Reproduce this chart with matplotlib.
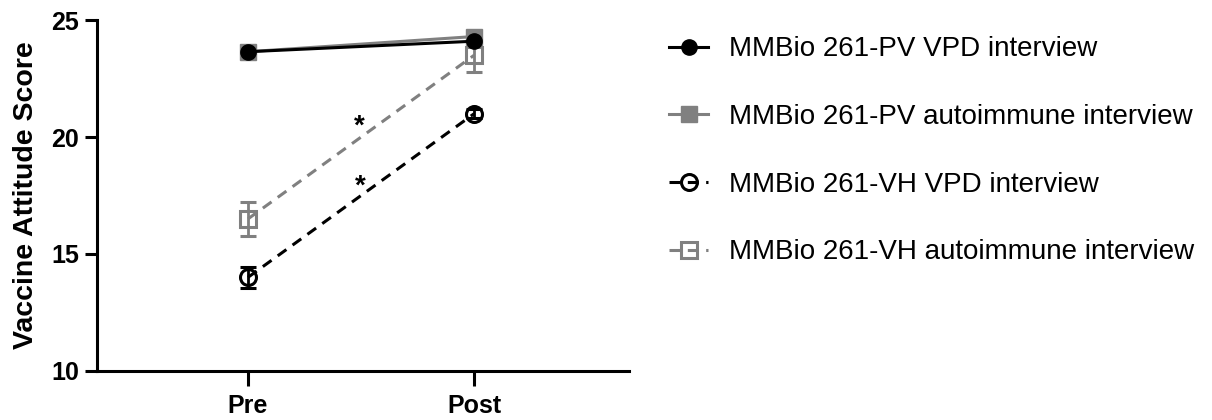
import matplotlib
matplotlib.use("Agg")
import matplotlib.pyplot as plt
from matplotlib.lines import Line2D

plt.rcParams['font.family'] = ['Liberation Sans', 'DejaVu Sans']

# Dados
tempos = ["Pre", "Post"]
x = [0, 1]

pv_vpd = [23.65, 24.1]
pv_auto = [23.65, 24.3]
vh_vpd = [14.0, 21.0]
vh_vpd_err = [0.46, 0.2]
vh_auto = [16.5, 23.5]
vh_auto_err = [0.73, 0.7]

nomes = ["MMBio 261-PV VPD interview",
         "MMBio 261-PV autoimmune interview",
         "MMBio 261-VH VPD interview",
         "MMBio 261-VH autoimmune interview"]

# posicoes dos asteriscos (x, y)
asteriscos_x = [0.49, 0.495]
asteriscos_y = [20.45, 17.9]

cinza = "#808080"
tracejado = (0, (3.5, 2.5))

# estilos de cada serie (cor, linha, marcador, tamanho, preenchimento)
estilos = [
    dict(color="black", ls="-", marker="o", ms=11, mfc="black", mec="black"),
    dict(color=cinza, ls="-", marker="s", ms=11, mfc=cinza, mec=cinza),
    dict(color="black", ls=tracejado, marker="o", ms=11.5, mfc="none", mec="black", mew=2.2),
    dict(color=cinza, ls=tracejado, marker="s", ms=12, mfc="none", mec=cinza, mew=2.2),
]

fig = plt.figure(figsize=(12.12, 4.2), dpi=100)
ax = fig.add_axes([0.080, 0.117, 0.439, 0.835])

# Series VH (com barras de erro)
ax.errorbar(x, vh_auto, yerr=vh_auto_err, lw=2.2, capsize=5.5, elinewidth=2,
            capthick=2, zorder=2, **estilos[3])
ax.errorbar(x, vh_vpd, yerr=vh_vpd_err, lw=2.2, capsize=5.5, elinewidth=2,
            capthick=2, zorder=3, **estilos[2])

# Series PV (erro escondido atras do marcador)
ax.plot(x, pv_auto, lw=2.2, zorder=4, **estilos[1])
ax.plot(x, pv_vpd, lw=2.2, zorder=5, **estilos[0])

for ax_, ay_ in zip(asteriscos_x, asteriscos_y):
    ax.text(ax_, ay_, "*", fontsize=20, fontweight="bold", ha="center", va="center")

# Eixos
ax.set_xlim(-0.668, 1.685)
ax.set_ylim(10, 25)
ax.set_yticks([10, 15, 20, 25])
ax.set_xticks(x)
ax.set_xticklabels(tempos)
ax.set_ylabel("Vaccine Attitude Score", fontsize=20.5, fontweight="bold", labelpad=9)

for s in ["top", "right"]:
    ax.spines[s].set_visible(False)
for s in ["left", "bottom"]:
    ax.spines[s].set_linewidth(2.2)

ax.tick_params(axis="y", length=9, width=2.2, labelsize=18, pad=4)
ax.tick_params(axis="x", length=11, width=2.2, labelsize=18, pad=6)
for lbl in ax.get_xticklabels() + ax.get_yticklabels():
    lbl.set_fontweight("bold")

# Legenda (so linha e marcador)
handles = [Line2D([], [], lw=2.2, **e) for e in estilos]
fig.legend(handles=handles, labels=nomes, loc="center left",
           bbox_to_anchor=(0.5315, 0.641), frameon=False, fontsize=20,
           handlelength=1.4, labelspacing=1.5, handletextpad=0.75)

fig.savefig("out.png", dpi=100)
